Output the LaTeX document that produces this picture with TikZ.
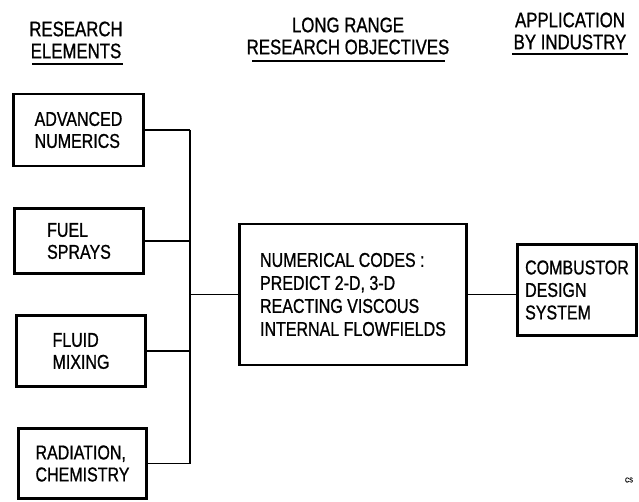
\documentclass[tikz,border=0pt]{standalone}
\usepackage{fontspec}
\setmainfont{Liberation Sans}[FakeStretch=0.8,FakeBold=0.9]
\begin{document}
\begin{tikzpicture}[x=1pt,y=-1pt,
  hdr/.style={align=center, font=\fontsize{21}{22}\selectfont, inner sep=0pt},
  elbox/.style={draw, line width=2.6pt, align=left, inner sep=0pt,
     font=\fontsize{20}{22}\selectfont},
  conn/.style={line width=1.6pt},
  uline/.style={line width=2pt}]
\useasboundingbox (0,0) rectangle (639,502);
% headers
\node[hdr] (h1) at (76,40) {RESEARCH\\ELEMENTS};
\node[hdr] (h2) at (348,36) {LONG RANGE\\RESEARCH OBJECTIVES};
\node[hdr] (h3) at (570,31) {APPLICATION\\BY INDUSTRY};
\draw[uline] (32,64) coordinate (u1a) -- (123,64) coordinate (u1b);
\draw[uline] (252,61) coordinate (u2a) -- (445,61) coordinate (u2b);
\draw[uline] (512,54) coordinate (u3a) -- (628,54) coordinate (u3b);
% element boxes
\node[elbox, minimum width=130, minimum height=72] (an) at (78.5,130) {ADVANCED\\NUMERICS};
\node[elbox, minimum width=129, minimum height=65] (fs) at (79,241) {FUEL\\SPRAYS};
\node[elbox, minimum width=129, minimum height=71] (fm) at (81,351) {FLUID\\MIXING};
\node[elbox, minimum width=128, minimum height=70] (rc) at (82.5,463.5) {RADIATION,\\CHEMISTRY};
\node[elbox, minimum width=227, minimum height=141, font=\fontsize{20}{23}\selectfont] (num) at (353,294.5)
  {NUMERICAL CODES :\\PREDICT 2-D, 3-D\\REACTING VISCOUS\\INTERNAL FLOWFIELDS};
\node[elbox, minimum width=119, minimum height=91, font=\fontsize{20}{22.5}\selectfont] (cds) at (577,290)
  {COMBUSTOR\\DESIGN\\SYSTEM};
% connectors
\coordinate (bus) at (190,0);
\draw[conn] (an.east) -- (an.east -| bus);
\draw[conn] (fs.east) -- (fs.east -| bus);
\draw[conn] (fm.east) -- (fm.east -| bus);
\draw[conn] (rc.east) -- (rc.east -| bus);
\draw[conn] (an.east -| bus) -- (rc.east -| bus);
\draw[conn] (num.west) -- (num.west -| bus);
\draw[conn] (num.east) -- (num.east -| cds.west);
\node[font=\fontsize{7}{8}\selectfont, inner sep=0pt] (cs) at (629,480) {CS};
\end{tikzpicture}
\end{document}
